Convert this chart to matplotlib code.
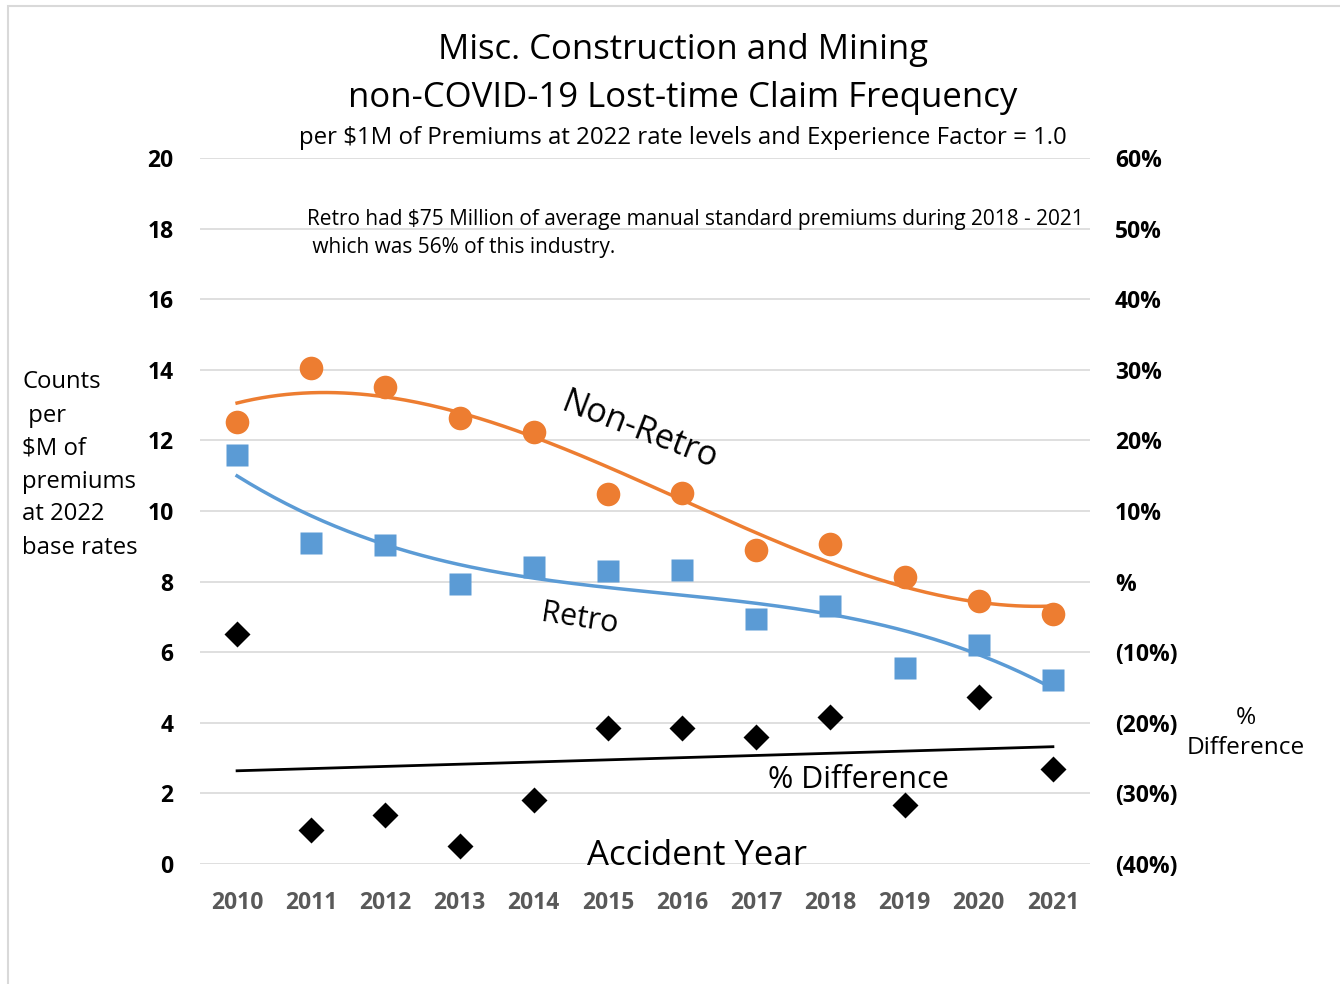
import numpy as np
import matplotlib
matplotlib.use('Agg')
import matplotlib.pyplot as plt
from matplotlib.patches import Rectangle

plt.rcParams['font.family'] = ['Open Sans', 'DejaVu Sans']

years = [2010, 2011, 2012, 2013, 2014, 2015, 2016, 2017, 2018, 2019, 2020, 2021]
non_retro = [12.52, 14.05, 13.51, 12.63, 12.24, 10.48, 10.51, 8.90, 9.07, 8.13, 7.45, 7.08]
retro = [11.59, 9.09, 9.04, 7.93, 8.41, 8.30, 8.33, 6.94, 7.31, 5.55, 6.20, 5.21]
pct_diff = [-0.074, -0.352, -0.331, -0.375, -0.309, -0.207, -0.207, -0.220, -0.192, -0.316, -0.163, -0.265]
left_ticks = [0, 2, 4, 6, 8, 10, 12, 14, 16, 18, 20]
right_ticks = [-0.4, -0.3, -0.2, -0.1, 0.0, 0.1, 0.2, 0.3, 0.4, 0.5, 0.6]
right_labels = ['(40%)', '(30%)', '(20%)', '(10%)', '%', '10%', '20%', '30%', '40%', '50%', '60%']

ORANGE = '#ED7D31'
BLUE = '#5B9BD5'
GRAY = '#595959'

W, H = 1340, 984
fig = plt.figure(figsize=(W / 100, H / 100), dpi=100)

def fx(px):
    return px / W

def fy(py):
    return 1 - py / H

# light frame round the chart
fig.patches.append(Rectangle((fx(8), fy(1000)), 1.0, fy(6) - fy(1000), transform=fig.transFigure,
                             fill=False, edgecolor='#D9D9D9', linewidth=1.5))

ax = fig.add_axes([fx(200), fy(864), fx(1090) - fx(200), fy(158) - fy(864)])
ax2 = ax.twinx()

x = np.array(years, dtype=float)
xi = np.arange(1, len(years) + 1)
xs = np.linspace(1, len(years), 200)
xs_year = years[0] + xs - 1

# trend lines (Excel style poly / linear fits)
p_nr = np.polyfit(xi, non_retro, 3)
p_r = np.polyfit(xi, retro, 3)
p_d = np.polyfit(xi, pct_diff, 1)

ax.plot(xs_year, np.polyval(p_nr, xs), color=ORANGE, lw=2.5, zorder=3)
ax.plot(xs_year, np.polyval(p_r, xs), color=BLUE, lw=2.5, zorder=3)
ax.plot(x, non_retro, 'o', color=ORANGE, ms=17, mec='none', zorder=4)
ax.plot(x, retro, 's', color=BLUE, ms=15.5, mec='none', zorder=4)

ax2.plot(xs_year, np.polyval(p_d, xs), color='black', lw=2, zorder=3)
ax2.plot(x, pct_diff, 'D', color='black', ms=13, mec='none', zorder=4)

ax.set_xlim(2009.5, 2021.5)
ax.set_ylim(0, 20)
ax2.set_ylim(-0.4, 0.6)
ax.set_yticks(left_ticks)
ax.set_yticklabels([str(t) for t in left_ticks])
ax2.set_yticks(right_ticks)
ax2.set_yticklabels(right_labels)
ax.set_xticks(years)
ax.set_xticklabels([str(y) for y in years])

ax.grid(axis='y', color='#D9D9D9', lw=1.2)
ax.set_axisbelow(True)
for a in (ax, ax2):
    for s in a.spines.values():
        s.set_visible(False)
    a.tick_params(length=0)
ax.tick_params(axis='y', pad=19, labelsize=16.5)
ax2.tick_params(axis='y', pad=18, labelsize=16.5)
ax.tick_params(axis='x', pad=19.5, labelsize=16.5, labelcolor=GRAY)
for lab in ax.get_yticklabels() + ax2.get_yticklabels() + ax.get_xticklabels():
    lab.set_fontweight('bold')

# titles
fig.text(fx(683), fy(50), 'Misc. Construction and Mining', ha='center', va='center', fontsize=25)
fig.text(fx(683), fy(98), 'non-COVID-19 Lost-time Claim Frequency', ha='center', va='center', fontsize=25)
fig.text(fx(683), fy(138), 'per $1M of Premiums at 2022 rate levels and Experience Factor = 1.0',
         ha='center', va='center', fontsize=17.3)
fig.text(fx(307), fy(220), 'Retro had $75 Million of average manual standard premiums during 2018 - 2021',
         ha='left', va='center', fontsize=15)
fig.text(fx(307), fy(248), ' which was 56% of this industry.', ha='left', va='center', fontsize=15)

fig.text(fx(22), fy(465), 'Counts\n per\n$M of\npremiums\nat 2022\nbase rates', ha='left', va='center',
         fontsize=17.2, linespacing=1.5)
fig.text(fx(1246), fy(733), '%\nDifference', ha='center', va='center', fontsize=17.6, linespacing=1.38)

fig.text(fx(640), fy(431), 'Non-Retro', ha='center', va='center', fontsize=24.5, rotation=-21)
fig.text(fx(580), fy(619), 'Retro', ha='center', va='center', fontsize=22, rotation=-9)
fig.text(fx(858), fy(780), '% Difference', ha='center', va='center', fontsize=22)
fig.text(fx(697), fy(856), 'Accident Year', ha='center', va='center', fontsize=25)

fig.savefig('out.png', dpi=100)
